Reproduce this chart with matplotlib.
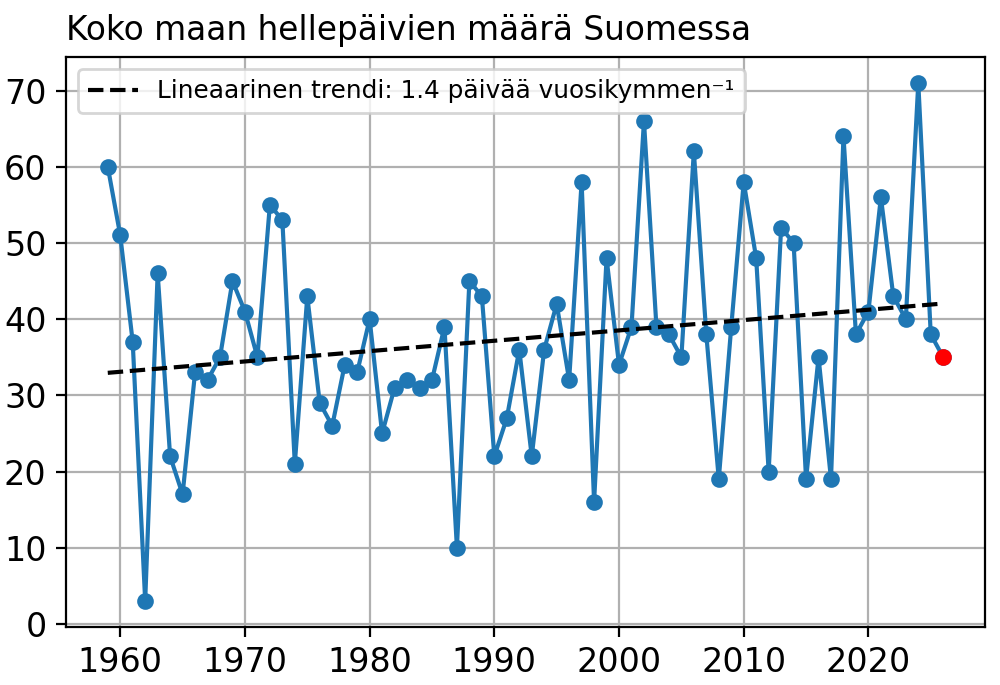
import numpy as np
import matplotlib
matplotlib.use("Agg")
import matplotlib.pyplot as plt

years = list(range(1959, 2027))
days = [60, 51, 37, 3, 46, 22, 17, 33, 32, 35,
        45, 41, 35, 55, 53, 21, 43, 29, 26, 34,
        33, 40, 25, 31, 32, 31, 32, 39, 10, 45,
        43, 22, 27, 36, 22, 36, 42, 32, 58, 16,
        48, 34, 39, 66, 39, 38, 35, 62, 38, 19,
        39, 58, 48, 20, 52, 50, 19, 35, 19, 64,
        38, 41, 56, 43, 40, 71, 38, 35]
title = "Koko maan hellepäivien määrä Suomessa"
trend_label = "Lineaarinen trendi: {:.1f} päivää vuosikymmen⁻¹"

x = np.array(years, dtype=float)
y = np.array(days, dtype=float)
# Theil-Sen slope, intercept through medians
i, j = np.triu_indices(len(x), 1)
slope = np.median((y[j] - y[i]) / (x[j] - x[i]))
inter = np.median(y) - slope * np.median(x)
trend = slope * x + inter

fig = plt.figure(figsize=(5, 3.425), dpi=200)
ax = fig.add_axes([0.066, 0.0847, 0.919, 0.8321])
ax.plot(x, y, marker='o', color='#1f77b4', linewidth=1.5, markersize=5)
ax.plot(x[-1:], y[-1:], marker='o', color='red', linestyle='none', markersize=5, zorder=3)
ax.plot(x, trend, linestyle='--', color='black', linewidth=1.5,
        label=trend_label.format(slope * 10))
ax.grid(True)
ax.set_title(title, loc='left', fontsize=11.8)
ax.tick_params(labelsize=12)
ax.legend(loc='upper left', fontsize=8.9)
fig.savefig("out.png", dpi=200)
